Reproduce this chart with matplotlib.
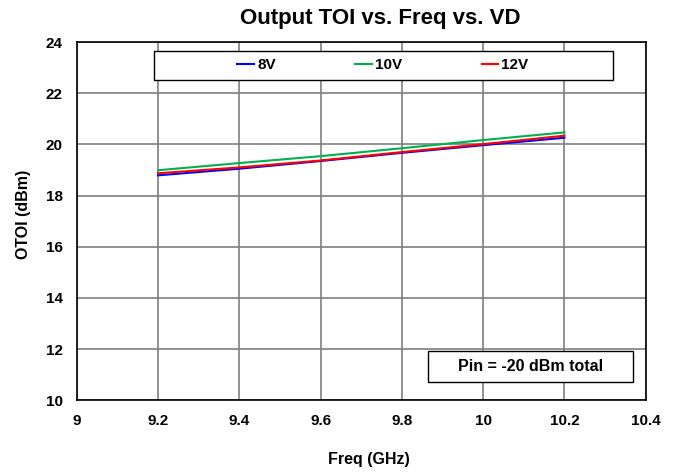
import matplotlib
matplotlib.use("Agg")
import matplotlib.pyplot as plt
from matplotlib.patches import Rectangle

plt.rcParams['font.family'] = ['Liberation Sans', 'DejaVu Sans']
plt.rcParams['font.weight'] = 'bold'

freq = [9.2, 9.4, 9.6, 9.8, 10.0, 10.2]
v8 = [18.79, 19.05, 19.35, 19.67, 19.97, 20.26]
v10 = [18.99, 19.27, 19.54, 19.85, 20.17, 20.47]
v12 = [18.87, 19.10, 19.37, 19.70, 20.01, 20.34]
series = [("8V", v8, "#0000ff"), ("10V", v10, "#00b050"), ("12V", v12, "#ff0000")]
xticks = [9, 9.2, 9.4, 9.6, 9.8, 10, 10.2, 10.4]
xticklabels = ["9", "9.2", "9.4", "9.6", "9.8", "10", "10.2", "10.4"]
yticks = [10, 12, 14, 16, 18, 20, 22, 24]

fig = plt.figure(figsize=(6.74, 4.73), dpi=100)
ax = fig.add_axes([0.114, 0.154, 0.844, 0.757])

for name, vals, col in series:
    ax.plot(freq, vals, color=col, lw=1.5, label=name, zorder=3)

ax.set_xlim(9, 10.4)
ax.set_ylim(10, 24)
ax.set_xticks(xticks)
ax.set_xticklabels(xticklabels)
ax.set_yticks(yticks)
ax.grid(True, color="#7f7f7f", lw=1.2)
ax.set_axisbelow(True)
ax.tick_params(length=0, labelsize=11, pad=10)
for lab in ax.get_xticklabels() + ax.get_yticklabels():
    lab.set_fontweight('bold')
for s in ax.spines.values():
    s.set_color("black")
    s.set_linewidth(1.2)

ax.set_title("Output TOI vs. Freq vs. VD", fontsize=16, fontweight='bold', pad=13, x=0.533)
ax.set_xlabel("Freq (GHz)", fontsize=11.5, fontweight='bold', labelpad=17, x=0.513)
ax.set_ylabel("OTOI (dBm)", fontsize=11.5, fontweight='bold', labelpad=11, y=0.52)

# legend box
ax.add_patch(Rectangle((0.135, 0.895), 0.807, 0.081, transform=ax.transAxes,
                       facecolor="white", edgecolor="black", lw=1.0, zorder=4))
ax.legend(loc="center", bbox_to_anchor=(0.538, 0.935), ncol=3, frameon=False,
          handlelength=1.1, handletextpad=0.2, columnspacing=5.2,
          prop={'weight': 'bold', 'size': 11})

# annotation box
ax.add_patch(Rectangle((0.617, 0.05), 0.36, 0.087, transform=ax.transAxes,
                       facecolor="white", edgecolor="black", lw=1.0, zorder=4))
ax.text(0.797, 0.0935, "Pin = -20 dBm total", transform=ax.transAxes,
        ha="center", va="center", fontsize=11.5, fontweight='bold', zorder=5)

fig.savefig("out.png", dpi=100)
